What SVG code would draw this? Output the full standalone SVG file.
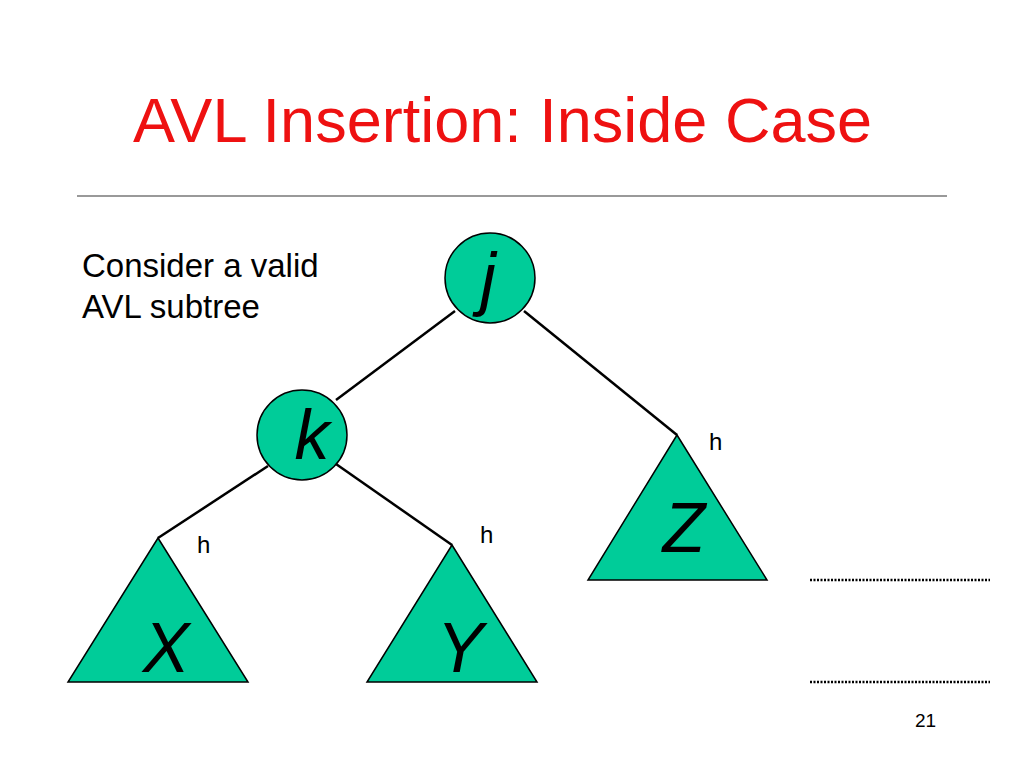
<svg xmlns="http://www.w3.org/2000/svg" width="1024" height="768" viewBox="0 0 1024 768">
<style>
.n{fill:#00CC99;stroke:#000;stroke-width:1.5}
.c line{stroke:#000;stroke-width:2.5}
.lbl{font-family:"Liberation Sans",Arial,sans-serif;font-style:italic;font-size:70px;fill:#000;text-anchor:middle}
.s{font-family:"Liberation Sans",Arial,sans-serif;font-size:24px;fill:#000}
.dot{stroke:#000;stroke-width:2.5;stroke-dasharray:2 1.5}
</style>
<rect width="1024" height="768" fill="#fff"/>
<text x="133" y="142" font-family="Liberation Sans,Arial,sans-serif" font-size="63" fill="#EE1111" textLength="739">AVL Insertion: Inside Case</text>
<line x1="77" y1="196" x2="947" y2="196" stroke="#777" stroke-width="1.5"/>
<text class="s" x="82" y="277" style="font-size:33px">Consider a valid</text>
<text class="s" x="82" y="318" style="font-size:33px">AVL subtree</text>
<g class="c" id="connectors">
<line x1="455" y1="311" x2="336" y2="400"/>
<line x1="524" y1="311" x2="677" y2="435"/>
<line x1="268" y1="466" x2="158" y2="538"/>
<line x1="336" y1="464" x2="452" y2="545"/>
</g>
<g id="j"><circle class="n" cx="490" cy="278" r="45"/><text class="lbl" x="488" y="302">j</text></g>
<g id="k"><circle class="n" cx="302" cy="435" r="45"/><text class="lbl" x="312" y="459">k</text></g>
<g id="X"><polygon class="n" points="158,538 248,682 68,682"/><text class="lbl" x="166" y="672">X</text></g>
<g id="Y"><polygon class="n" points="452,545 537,682 367,682"/><text class="lbl" x="460" y="672">Y</text></g>
<g id="Z"><polygon class="n" points="677,435 767,580 588,580"/><text class="lbl" x="684" y="552">Z</text></g>
<text class="s" x="197" y="553">h</text>
<text class="s" x="480" y="543">h</text>
<text class="s" x="709" y="450">h</text>
<line class="dot" x1="810" y1="580" x2="990" y2="580"/>
<line class="dot" x1="810" y1="682" x2="990" y2="682"/>
<text class="s" x="915" y="727" style="font-size:19px">21</text>
</svg>
